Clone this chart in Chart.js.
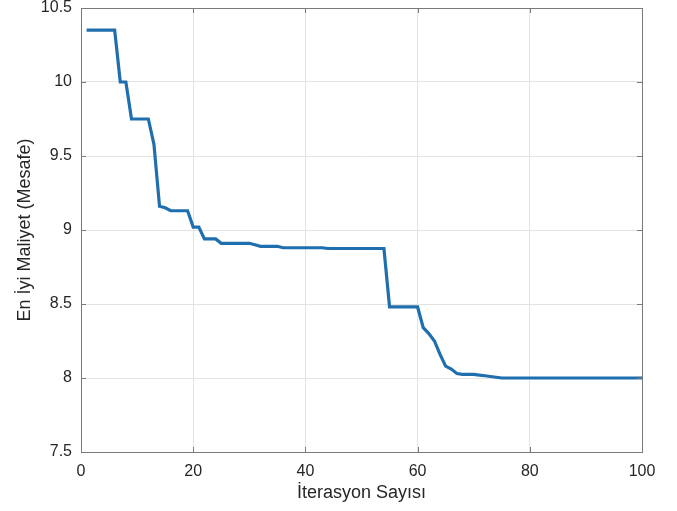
<!DOCTYPE html>
<html>
<head>
<meta charset="utf-8">
<script src="https://cdn.jsdelivr.net/npm/chart.js@4"></script>
<style>
  html, body { margin: 0; padding: 0; background: #fff; }
  #wrap { width: 677px; height: 511px; }
</style>
</head>
<body>
<div id="wrap"><canvas id="costChart"></canvas></div>
<script>
// iterations 1..100 and best cost
const iterations = Array.from({ length: 100 }, (_, i) => i + 1);
const bestCost = [
    10.35, 10.35, 10.35, 10.35, 10.35, 10.35, 10.0, 10.0, 9.75, 9.75,
    9.75, 9.75, 9.58, 9.16, 9.15, 9.13, 9.13, 9.13, 9.13, 9.02,
    9.02, 8.94, 8.94, 8.94, 8.91, 8.91, 8.91, 8.91, 8.91, 8.91,
    8.90, 8.89, 8.89, 8.89, 8.89, 8.88, 8.88, 8.88, 8.88, 8.88,
    8.88, 8.88, 8.88, 8.875, 8.875, 8.875, 8.875, 8.875, 8.875, 8.875,
    8.875, 8.875, 8.875, 8.875, 8.48, 8.48, 8.48, 8.48, 8.48, 8.48,
    8.34, 8.30, 8.25, 8.16, 8.08, 8.06, 8.03, 8.025, 8.025, 8.025,
    8.02, 8.015, 8.01, 8.005, 8.0, 8.0, 8.0, 8.0, 8.0, 8.0,
    8.0, 8.0, 8.0, 8.0, 8.0, 8.0, 8.0, 8.0, 8.0, 8.0,
    8.0, 8.0, 8.0, 8.0, 8.0, 8.0, 8.0, 8.0, 8.0, 8.0
];
const xTicks = [0, 20, 40, 60, 80, 100];
const yTicks = [7.5, 8, 8.5, 9, 9.5, 10, 10.5];

const xLabel = 'İterasyon Sayısı';
const yLabel = 'En İyi Maliyet (Mesafe)';

const textColor = '#262626';
const fontFamily = '"Liberation Sans", Arial, sans-serif';

// MATLAB style box with inward tick marks
const boxPlugin = {
    id: 'boxPlugin',
    afterDatasetsDraw(chart) {
        const { ctx, chartArea: a, scales } = chart;
        ctx.save();
        ctx.strokeStyle = '#7a7a7a';
        ctx.lineWidth = 1;
        ctx.beginPath();
        xTicks.forEach(v => {
            const px = Math.round(scales.x.getPixelForValue(v)) + 0.5;
            ctx.moveTo(px, a.bottom); ctx.lineTo(px, a.bottom - 5);
            ctx.moveTo(px, a.top); ctx.lineTo(px, a.top + 5);
        });
        yTicks.forEach(v => {
            const py = Math.round(scales.y.getPixelForValue(v)) + 0.5;
            ctx.moveTo(a.left, py); ctx.lineTo(a.left + 5, py);
            ctx.moveTo(a.right, py); ctx.lineTo(a.right - 5, py);
        });
        ctx.stroke();
        ctx.strokeRect(Math.round(a.left) + 0.5, Math.round(a.top) + 0.5,
            Math.round(a.right - a.left), Math.round(a.bottom - a.top));
        ctx.restore();
    }
};

const ctx_cost = document.getElementById('costChart').getContext('2d');
new Chart(ctx_cost, {
    type: 'line',
    data: {
        datasets: [{
            label: yLabel,
            data: iterations.map((it, i) => ({ x: it, y: bestCost[i] })),
            borderColor: '#1f6fae',
            borderWidth: 3.2,
            pointRadius: 0,
            fill: false,
            tension: 0
        }]
    },
    options: {
        responsive: true,
        maintainAspectRatio: false,
        animation: false,
        layout: { padding: { top: 8, right: 35, left: 0, bottom: 0 } },
        plugins: {
            legend: { display: false },
            tooltip: { enabled: false }
        },
        scales: {
            x: {
                type: 'linear',
                min: 0,
                max: 100,
                afterBuildTicks: s => { s.ticks = xTicks.map(v => ({ value: v })); },
                afterFit: s => { s.height = 59; },
                grid: { color: '#e3e3e3', drawTicks: false },
                border: { display: false },
                ticks: {
                    color: textColor,
                    padding: 10,
                    callback: v => String(v),
                    font: { family: fontFamily, size: 16 }
                },
                title: {
                    display: true,
                    text: xLabel,
                    color: textColor,
                    padding: { top: 2, bottom: 7 },
                    font: { family: fontFamily, size: 18 }
                }
            },
            y: {
                min: 7.5,
                max: 10.5,
                afterBuildTicks: s => { s.ticks = yTicks.map(v => ({ value: v })); },
                afterFit: s => { s.width = 81; s.paddingTop = 0; s.paddingBottom = 0; },
                grid: { color: '#e3e3e3', drawTicks: false },
                border: { display: false },
                ticks: {
                    color: textColor,
                    padding: 9,
                    callback: v => String(v),
                    font: { family: fontFamily, size: 16 }
                },
                title: {
                    display: true,
                    text: yLabel,
                    color: textColor,
                    padding: { top: 14, bottom: 0 },
                    font: { family: fontFamily, size: 18 }
                }
            }
        }
    },
    plugins: [boxPlugin]
});
</script>
</body>
</html>
